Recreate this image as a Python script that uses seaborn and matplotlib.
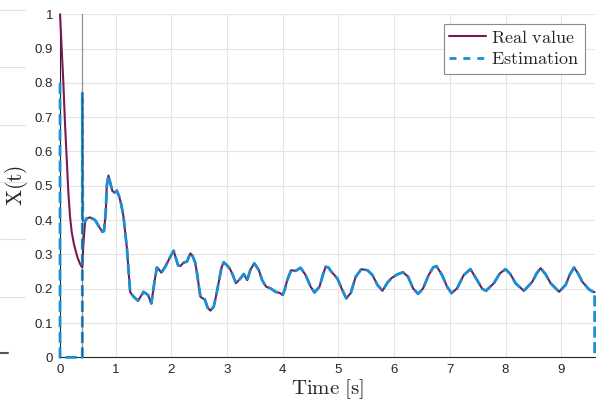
import numpy as np
import pandas as pd
import matplotlib
matplotlib.use("Agg")
import matplotlib.pyplot as plt
from matplotlib.lines import Line2D
import seaborn as sns

# ---- data ----
time = [0.00, 0.03, 0.06, 0.09, 0.12, 0.15, 0.18, 0.21, 0.25, 0.31, 0.36, 0.40,
        0.42, 0.45, 0.48, 0.54, 0.63, 0.70, 0.76, 0.79, 0.82, 0.84, 0.87, 0.90,
        0.94, 0.98, 1.02, 1.06, 1.10, 1.14, 1.20, 1.26, 1.32, 1.40, 1.46, 1.50,
        1.55, 1.58, 1.64, 1.67, 1.70, 1.74, 1.78, 1.82, 1.89, 1.98, 2.04, 2.08,
        2.12, 2.16, 2.22, 2.28, 2.34, 2.38, 2.43, 2.46, 2.52, 2.56, 2.60, 2.65,
        2.70, 2.76, 2.81, 2.85, 2.90, 2.94, 3.00, 3.05, 3.09, 3.16, 3.24, 3.30,
        3.36, 3.42, 3.49, 3.57, 3.63, 3.70, 3.78, 3.87, 3.94, 4.00, 4.04, 4.08,
        4.15, 4.23, 4.32, 4.41, 4.50, 4.57, 4.66, 4.72, 4.77, 4.82, 4.86, 4.98,
        5.07, 5.14, 5.22, 5.31, 5.41, 5.52, 5.61, 5.70, 5.79, 5.88, 5.96, 6.06,
        6.16, 6.25, 6.34, 6.43, 6.52, 6.62, 6.70, 6.76, 6.86, 6.95, 7.03, 7.13,
        7.25, 7.37, 7.49, 7.58, 7.65, 7.79, 7.90, 8.00, 8.09, 8.18, 8.33, 8.48,
        8.56, 8.63, 8.72, 8.81, 8.96, 9.08, 9.15, 9.23, 9.30, 9.38, 9.50, 9.56,
        9.60]
real_value = [1.00, 0.90, 0.80, 0.68, 0.58, 0.48, 0.41, 0.365, 0.33, 0.293, 0.272, 0.262,
              0.33, 0.395, 0.405, 0.408, 0.400, 0.381, 0.366, 0.368, 0.42, 0.50, 0.53, 0.51,
              0.485, 0.480, 0.486, 0.470, 0.445, 0.41, 0.32, 0.19, 0.177, 0.165, 0.18, 0.191,
              0.185, 0.182, 0.157, 0.19, 0.225, 0.262, 0.255, 0.247, 0.264, 0.293, 0.311, 0.289,
              0.268, 0.266, 0.276, 0.279, 0.303, 0.296, 0.275, 0.245, 0.177, 0.172, 0.169, 0.145,
              0.136, 0.148, 0.185, 0.22, 0.262, 0.277, 0.268, 0.258, 0.245, 0.216, 0.23, 0.243,
              0.225, 0.256, 0.274, 0.254, 0.225, 0.206, 0.201, 0.191, 0.188, 0.182, 0.20, 0.225,
              0.254, 0.252, 0.261, 0.24, 0.206, 0.189, 0.206, 0.24, 0.264, 0.262, 0.252, 0.23,
              0.196, 0.172, 0.187, 0.235, 0.257, 0.254, 0.24, 0.211, 0.194, 0.218, 0.232, 0.242,
              0.248, 0.235, 0.201, 0.185, 0.201, 0.24, 0.262, 0.266, 0.24, 0.206, 0.187, 0.201,
              0.24, 0.257, 0.225, 0.20, 0.194, 0.216, 0.245, 0.257, 0.242, 0.216, 0.194, 0.22,
              0.245, 0.26, 0.242, 0.216, 0.191, 0.211, 0.24, 0.262, 0.245, 0.22, 0.198, 0.192,
              0.19]

# Estimation: starts at 0.8, held at zero until the switch at 0.4 s, then tracks
est_start_time = [0.00, 0.00, 0.40, 0.40, 0.41]
est_start_value = [0.80, 0.00, 0.00, 0.77, 0.40]
est_end_time = [9.60]
est_end_value = [0.00]
switch_time = 0.4
track_from = 13  # index in `time` from which estimation follows the real value

est_time = est_start_time + time[track_from:] + est_end_time
est_value = est_start_value + real_value[track_from:] + est_end_value

x_ticks = [0, 1, 2, 3, 4, 5, 6, 7, 8, 9]
y_ticks = [0, 0.1, 0.2, 0.3, 0.4, 0.5, 0.6, 0.7, 0.8, 0.9, 1]
y_ticklabels = ["0", "0.1", "0.2", "0.3", "0.4", "0.5", "0.6", "0.7", "0.8", "0.9", "1"]

# ---- style ----
sns.set_style("white")
plt.rcParams["font.family"] = ["Liberation Sans", "DejaVu Sans"]
plt.rcParams["mathtext.fontset"] = "cm"

real_df = pd.DataFrame({"t": time, "x": real_value})
est_df = pd.DataFrame({"t": est_time, "x": est_value})

maroon = "#7A1A4F"
blue = "#1B8FD3"

fig = plt.figure(figsize=(5.96, 4.07), dpi=100)
ax = fig.add_axes([0.1007, 0.122, 0.897, 0.843])

sns.lineplot(data=real_df, x="t", y="x", ax=ax, color=maroon, lw=1.5,
             estimator=None, sort=False, label=r"$\mathrm{Real\ value}$")
sns.lineplot(data=est_df, x="t", y="x", ax=ax, color=blue, lw=2.0,
             estimator=None, sort=False, label=r"$\mathrm{Estimation}$")
lines = ax.get_lines()
lines[1].set_dashes([4, 1.6])
for l in lines[:2]:
    l.set_clip_on(False)
    l.set_zorder(4)
    l.set_solid_joinstyle("round")
    l.set_dash_joinstyle("round")
ax.axvline(switch_time, color="#3a3a3a", lw=0.9, alpha=0.55, zorder=5)

ax.set_xlim(0, 9.6)
ax.set_ylim(0, 1)
ax.set_xticks(x_ticks)
ax.set_yticks(y_ticks)
ax.set_yticklabels(y_ticklabels)
ax.grid(True, color="#e4e4e4", lw=0.8)
ax.set_axisbelow(True)
for s in ["top", "right"]:
    ax.spines[s].set_visible(False)
for s in ["left", "bottom"]:
    ax.spines[s].set_color("#262626")
    ax.spines[s].set_linewidth(0.8)
    ax.spines[s].set_zorder(3)
ax.tick_params(direction="in", length=3.5, width=0.7, colors="#262626",
               labelsize=9.5, pad=5, top=False, right=False)

ax.set_xlabel(r"$\mathrm{Time\ [s]}$", fontsize=15, labelpad=1)
ax.set_ylabel(r"$\mathrm{X(t)}$", fontsize=15.5, labelpad=3)

leg = ax.legend(loc="upper right", fontsize=13, frameon=True, fancybox=False,
                edgecolor="#8a8a8a", framealpha=1, borderaxespad=0.55,
                handlelength=2.0, handletextpad=0.3, borderpad=0.3, labelspacing=0.25)
leg.get_frame().set_linewidth(0.8)
leg.get_lines()[1].set_dashes([2.5, 2.5])

# faint remnants of a neighbouring panel at the left edge
for ypx in [10, 67, 125, 182, 239, 297]:
    fig.add_artist(Line2D([0, 25 / 596], [1 - ypx / 407] * 2, color="#e2e2e2", lw=0.8))
fig.add_artist(Line2D([0, 8 / 596], [1 - 353 / 407] * 2, color="#555555", lw=1.5))

fig.savefig("out.png", dpi=100)
